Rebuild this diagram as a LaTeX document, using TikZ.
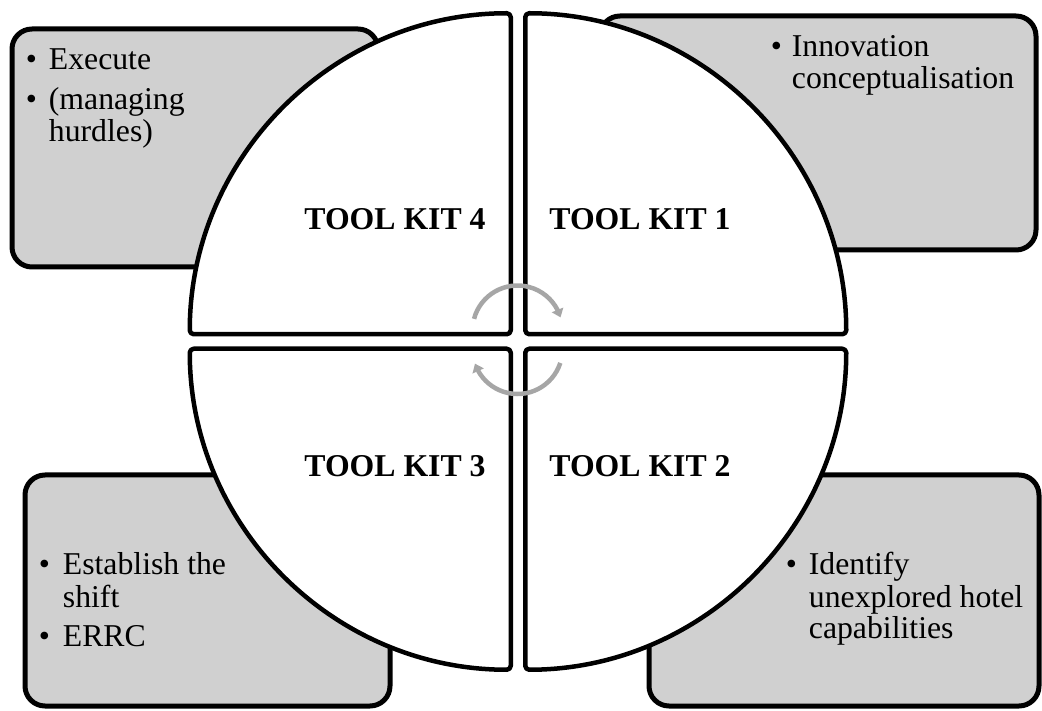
\documentclass[tikz,border=0pt]{standalone}
\usepackage{fontspec}
\setmainfont{Liberation Serif}
\usetikzlibrary{arrows.meta,bending,calc}
\definecolor{boxgray}{HTML}{D0D0D0}
\definecolor{arrowgray}{HTML}{A6A6A6}
\begin{document}
\begin{tikzpicture}[x=1pt,y=1pt,
  infobox/.style={draw=black,line width=5pt,fill=boxgray,rounded corners=20pt},
  sector/.style={draw=black,line width=4.5pt,fill=white,rounded corners=4pt,line join=round},
  kitlabel/.style={anchor=base,inner sep=0pt,font=\fontsize{31.75}{32}\selectfont\bfseries},
  bullettext/.style={anchor=base west,inner sep=0pt,font=\fontsize{31.75}{32}\selectfont},
  cyclearrow/.style={draw=arrowgray,line width=4.5pt,-{Triangle[width=12pt,length=8pt,flex]}}
]
\useasboundingbox (0,0) rectangle (1042,710);
% corner boxes
\draw[infobox] (12,443) rectangle (378,681);
\draw[infobox] (600,460) rectangle (1036,694);
\draw[infobox] (25,4) rectangle (390,235);
\draw[infobox] (649,4) rectangle (1039,235);
% circle sectors
\coordinate (ctr) at (518,368.5);
\draw[sector] (525.25,375.75) -- ++(0,321) arc[start angle=90,end angle=0,radius=321] -- cycle;
\draw[sector] (510.75,375.75) -- ++(-321,0) arc[start angle=180,end angle=90,radius=321] -- cycle;
\draw[sector] (510.75,361.25) -- ++(0,-321) arc[start angle=270,end angle=180,radius=321] -- cycle;
\draw[sector] (525.25,361.25) -- ++(321,0) arc[start angle=0,end angle=-90,radius=321] -- cycle;
% cycle arrows
\coordinate (topc) at (517.5,379.5);
\coordinate (botc) at (517.5,361);
\draw[cyclearrow] ($(topc)+(165:45)$) arc[start angle=165,end angle=17,radius=45];
\draw[cyclearrow] ($(botc)+(-18:45)$) arc[start angle=-18,end angle=-161,radius=45];
% labels
\node[kitlabel] (tk4) at (395,480) {TOOL KIT 4};
\node[kitlabel] (tk1) at (640,480) {TOOL KIT 1};
\node[kitlabel] (tk3) at (395,233) {TOOL KIT 3};
\node[kitlabel] (tk2) at (640,233) {TOOL KIT 2};
% box texts
\node[bullettext] (t4) at (25.6,640) {\begin{tabular}[t]{@{}l@{\hspace{12pt}}l@{}}\textbullet & Execute\\[8pt] \textbullet & (managing\\ & hurdles)\end{tabular}};
\node[bullettext] (t1) at (770.6,653) {\begin{tabular}[t]{@{}l@{\hspace{10pt}}l@{}}\textbullet & Innovation\\ & conceptualisation\end{tabular}};
\node[bullettext] (t3) at (38.6,135) {\begin{tabular}[t]{@{}l@{\hspace{13pt}}l@{}}\textbullet & Establish the\\ & shift\\[8pt] \textbullet & ERRC\end{tabular}};
\node[bullettext] (t2) at (785.6,135) {\begin{tabular}[t]{@{}l@{\hspace{12pt}}l@{}}\textbullet & Identify\\ & unexplored hotel\\ & capabilities\end{tabular}};
\end{tikzpicture}
\end{document}
